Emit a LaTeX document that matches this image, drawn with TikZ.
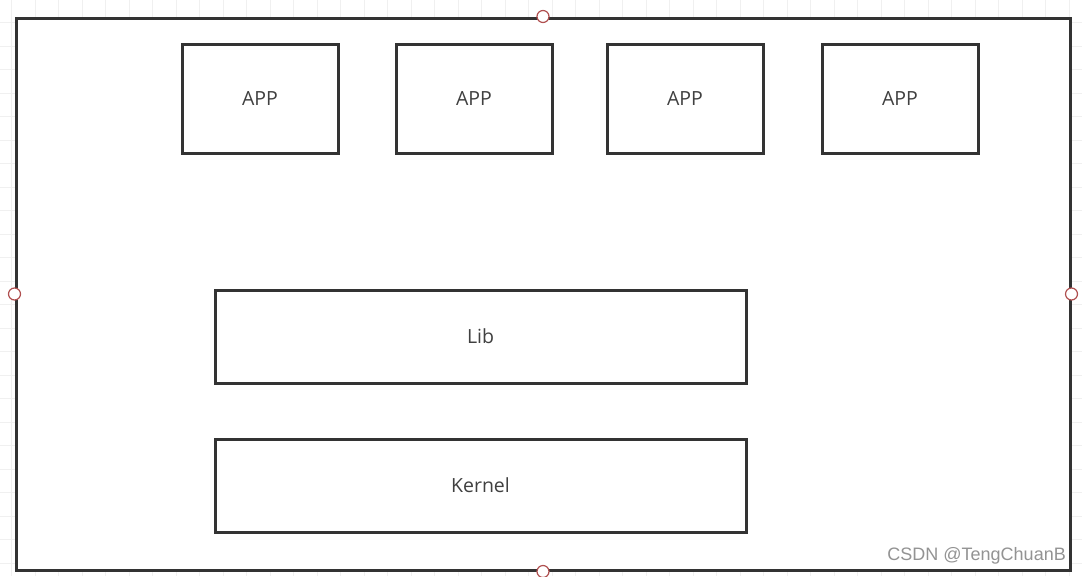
\documentclass[tikz,border=0pt]{standalone}
\usepackage{fontspec}
\setmainfont{Open Sans}
\newfontfamily\wmfont{Liberation Sans}
\definecolor{boxline}{HTML}{333333}
\definecolor{txt}{HTML}{404040}
\definecolor{gridc}{HTML}{F0F0F0}
\definecolor{handle}{HTML}{B05050}
\begin{document}
\begin{tikzpicture}[x=1pt,y=-1pt,
  blk/.style={draw=boxline,line width=3pt,fill=white,inner sep=0pt,font=\fontsize{19.5}{22}\selectfont,text=txt},
  hnd/.style={circle,draw=handle,fill=white,line width=1.2pt,minimum size=12pt,inner sep=0pt}]
\useasboundingbox (0,0) rectangle (1082,576);
\fill[white] (0,0) rectangle (1082,576);
\foreach \i in {0,...,46} {\draw[gridc,line width=1pt] (11.5+23.5*\i,0) -- (11.5+23.5*\i,576);}
\foreach \j in {0,...,24} {\draw[gridc,line width=1pt] (0,-1+23.5*\j) -- (1082,-1+23.5*\j);}
\node[draw=boxline,line width=3pt,fill=white,minimum width=1054pt,minimum height=552pt,inner sep=0pt,anchor=north west] (outer) at (14.5,16.5) {};
\node[blk,minimum width=156pt,minimum height=109pt,anchor=north west] (a1) at (180.5,42.5) {APP};
\node[blk,minimum width=156pt,minimum height=109pt,anchor=north west] (a2) at (394.5,42.5) {APP};
\node[blk,minimum width=156pt,minimum height=109pt,anchor=north west] (a3) at (605.5,42.5) {APP};
\node[blk,minimum width=156pt,minimum height=109pt,anchor=north west] (a4) at (820.5,42.5) {APP};
\node[blk,minimum width=531pt,minimum height=93pt,anchor=north west] (lib) at (213.5,288.5) {Lib};
\node[blk,minimum width=531pt,minimum height=93pt,anchor=north west] (kernel) at (213.5,437.5) {Kernel};
\node[hnd] (h1) at (outer.north) {};
\node[hnd] (h2) at (outer.south) {};
\node[hnd] (h3) at (outer.west) {};
\node[hnd] (h4) at (outer.east) {};
\node[anchor=south east,inner sep=0pt,text=gray!85,font=\wmfont\fontsize{18}{20}\selectfont] (wm) at (1066,564) {CSDN @TengChuanB};
\end{tikzpicture}
\end{document}
